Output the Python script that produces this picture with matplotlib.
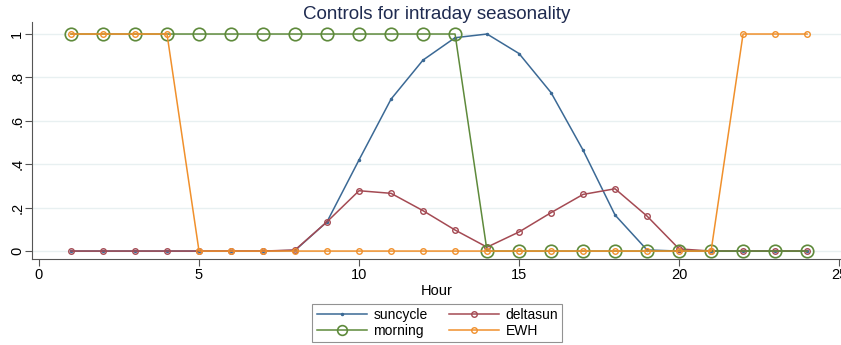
import numpy as np
import matplotlib.pyplot as plt

plt.rcParams['font.family'] = ['Liberation Sans', 'DejaVu Sans']

hours = list(range(1, 25))
suncycle = [0, 0, 0, 0, 0, 0, 0, 0.003, 0.135, 0.42, 0.70, 0.88, 0.983, 1.0,
            0.91, 0.73, 0.465, 0.166, 0.005, 0.0, 0, 0, 0, 0]
deltasun = [0, 0, 0, 0, 0, 0, 0, 0.005, 0.135, 0.278, 0.266, 0.186, 0.097, 0.018,
            0.088, 0.177, 0.261, 0.287, 0.161, 0.01, 0.0, 0, 0, 0]
morning = [1] * 13 + [0] * 11
ewh = [1] * 4 + [0] * 17 + [1] * 3

c_sun = '#3b6995'
c_delta = '#a44a53'
c_morn = '#5e8a3b'
c_ewh = '#f0902c'

fig = plt.figure(figsize=(8.41, 3.45), dpi=100)
ax = fig.add_axes([0.038, 0.249, 0.962, 0.687])

l_sun, = ax.plot(hours, suncycle, color=c_sun, lw=1.1, marker='.', ms=3, label='suncycle')
l_delta, = ax.plot(hours, deltasun, color=c_delta, lw=1.1, marker='o', ms=4,
                   mfc='none', mew=1.0, label='deltasun')
l_morn, = ax.plot(hours, morning, color=c_morn, lw=1.1, marker='o', ms=9,
                  mfc='none', mew=1.2, label='morning')
l_ewh, = ax.plot(hours, ewh, color=c_ewh, lw=1.1, marker='o', ms=4,
                 mfc='none', mew=1.0, label='EWH')

ax.set_xlim(-0.22, 25.06)
ax.set_ylim(-0.037, 1.055)
ax.set_xticks([0, 5, 10, 15, 20, 25])
ax.set_yticks([0, 0.2, 0.4, 0.6, 0.8, 1.0])
ax.set_yticklabels(['0', '.2', '.4', '.6', '.8', '1'], rotation=90, va='center')
ax.tick_params(labelsize=10.5, color='#555555', length=5)
ax.tick_params(axis='x', pad=1.5)
ax.tick_params(axis='y', pad=0.5)
ax.grid(axis='y', color='#e8f0f1', lw=1.0)
ax.set_axisbelow(True)
for s in ['top', 'right']:
    ax.spines[s].set_visible(False)
for s in ['left', 'bottom']:
    ax.spines[s].set_color('#555555')

ax.set_xlabel('Hour', fontsize=10.5, labelpad=1)
ax.set_title('Controls for intraday seasonality', fontsize=13.5, color='#1f2b50',
             y=1.012, pad=0)

# rows: suncycle/deltasun, morning/EWH
leg = fig.legend([l_sun, l_morn, l_delta, l_ewh],
                 ['suncycle', 'morning', 'deltasun', 'EWH'],
                 loc='center', bbox_to_anchor=(0.52, 0.064), ncol=2,
                 fontsize=10, frameon=True, fancybox=False, edgecolor='#777777',
                 handlelength=3.6, columnspacing=1.5, borderpad=0.3,
                 labelspacing=0.15, handletextpad=0.5)
leg.get_frame().set_linewidth(0.8)
leg.legend_handles[1].set_markersize(7)

fig.savefig('out.png', dpi=100)
